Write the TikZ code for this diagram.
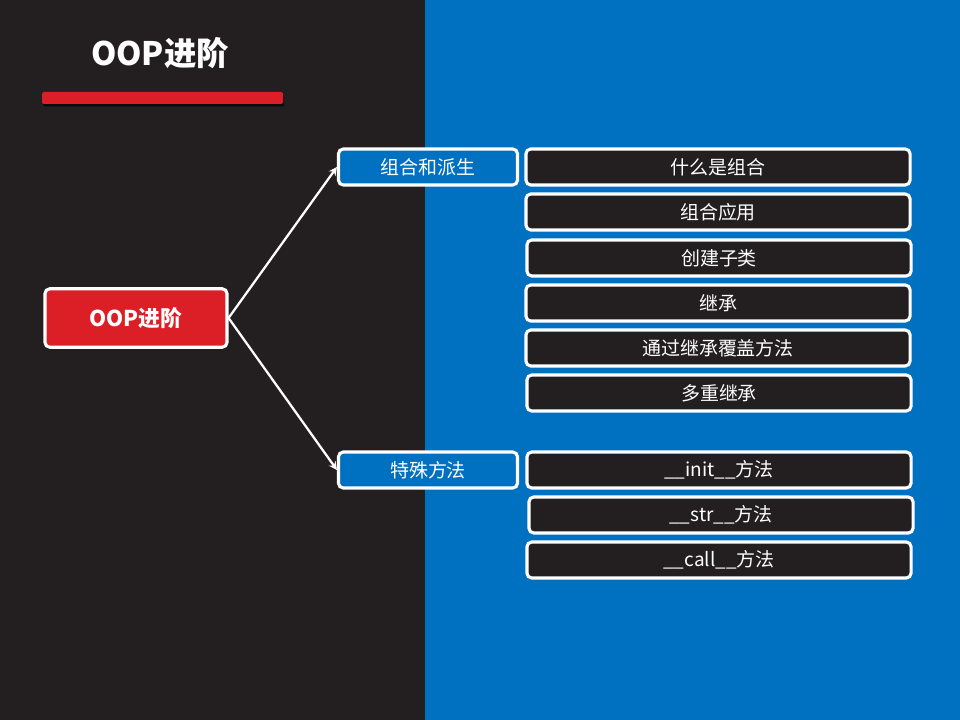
\documentclass[tikz,border=0pt]{standalone}
\usepackage{fontspec}
\setmainfont{Noto Sans CJK SC}
\usetikzlibrary{shadows}
\definecolor{darkbg}{HTML}{231F20}
\definecolor{bluebg}{HTML}{0070C0}
\definecolor{redbox}{HTML}{DC1F26}
\begin{document}
\begin{tikzpicture}[
    x=0.025cm, y=-0.025cm,
    leaf/.style={rectangle, draw=white, fill=darkbg, line width=2.2pt, rounded corners=0.12cm, minimum width=9.6cm, minimum height=0.9cm, inner sep=0pt, text=white, font=\fontsize{13.5}{15}\selectfont},
    branch/.style={leaf, fill=bluebg, minimum width=4.475cm},
    root/.style={leaf, fill=redbox, minimum width=4.55cm, minimum height=1.46cm, font=\fontsize{15.5}{17}\selectfont\bfseries},
    arrow/.style={->, >=stealth, white, line width=1.6pt}
]
    % Background
    \fill[darkbg] (0,0) rectangle (425,720);
    \fill[bluebg] (425,0) rectangle (960,720);
    \useasboundingbox (0,0) rectangle (960,720);

    % Title
    \node[text=white, font=\fontsize{23}{26}\selectfont\bfseries] (title) at (160,53) {OOP进阶};
    \fill[redbox, rounded corners=0.05cm, drop shadow={shadow xshift=0.03cm, shadow yshift=-0.06cm, fill=black, opacity=0.7}] (42,92) rectangle (283,104);

    % Root
    \node[root] (root) at (136,318) {OOP进阶};

    % Branches
    \node[branch] (comb) at (428,167) {组合和派生};
    \node[branch] (special) at (428,470) {特殊方法};

    % Leaves of first branch
    \node[leaf] (whatcomb) at (718,167) {什么是组合};
    \node[leaf] (combuse) at (718,212) {组合应用};
    \node[leaf] (subcls) at (719,258) {创建子类};
    \node[leaf] (inherit) at (718,303) {继承};
    \node[leaf] (override) at (718,348) {通过继承覆盖方法};
    \node[leaf] (multi) at (719,393) {多重继承};

    % Leaves of second branch
    \node[leaf] (init) at (719,470) {\_\_init\_\_方法};
    \node[leaf] (str) at (721,515) {\_\_str\_\_方法};
    \node[leaf] (call) at (719,560) {\_\_call\_\_方法};

    % Arrows from root to branches
    \draw[arrow] (root.east) -- (comb.west);
    \draw[arrow] (root.east) -- (special.west);
\end{tikzpicture}
\end{document}
